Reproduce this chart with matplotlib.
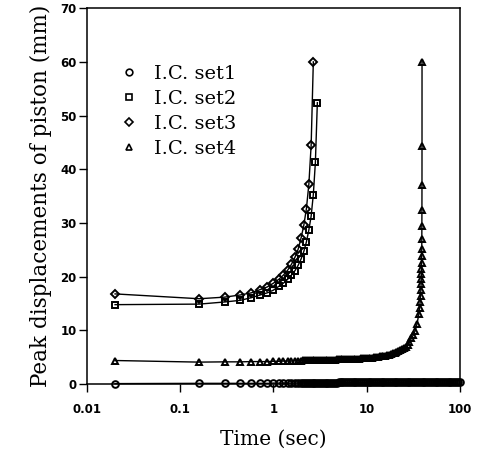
import matplotlib
matplotlib.use("Agg")
import matplotlib.pyplot as plt
from matplotlib.lines import Line2D

# sample times (sec)
t_grid = [0.02, 0.16, 0.30, 0.44, 0.58, 0.72, 0.86, 1.00, 1.14, 1.28, 1.42,
          1.56, 1.70, 1.84, 1.98, 2.12, 2.26, 2.40, 2.54, 2.68, 2.82, 2.96]
t_dense = [2.09, 2.19, 2.29, 2.40, 2.51, 2.63, 2.75, 2.88, 3.02, 3.16, 3.31,
           3.47, 3.63, 3.80, 3.98, 4.17, 4.37, 4.57, 4.79, 5.01, 5.25, 5.50,
           5.75, 6.03, 6.31, 6.61, 6.92, 7.24, 7.59, 7.94, 8.32, 8.71, 9.12,
           9.55, 10.0, 10.5, 11.0, 11.5, 12.0, 12.6, 13.2, 13.8, 14.5, 15.1,
           15.8, 16.6, 17.4, 18.2, 19.1, 20.0, 20.9, 21.9, 22.9, 24.0, 25.1,
           26.3, 27.5, 28.8, 30.2, 31.6, 33.1, 34.7, 36.3, 38.0, 39.8, 41.7,
           43.7, 45.7, 47.9, 50.1, 52.5, 55.0, 57.5, 60.3, 63.1, 66.1, 69.2,
           72.4, 75.9, 79.4, 83.2, 87.1, 91.2, 95.5, 100.0]

# I.C. set1 (circles)
set1_t = t_grid[:15] + t_dense
set1_y = [0.10, 0.15, 0.15, 0.15, 0.15, 0.15, 0.15, 0.20, 0.20, 0.20, 0.20,
          0.20, 0.20, 0.25, 0.25,
          0.25, 0.25, 0.25, 0.25, 0.26, 0.26, 0.26, 0.27, 0.27, 0.27, 0.28,
          0.28, 0.28, 0.29, 0.29, 0.30, 0.30, 0.30, 0.30, 0.31, 0.31, 0.31,
          0.31, 0.32, 0.32, 0.32, 0.32, 0.32, 0.33, 0.33, 0.33, 0.33, 0.33,
          0.34, 0.34, 0.34, 0.34, 0.34, 0.35, 0.35, 0.35, 0.35, 0.35, 0.35,
          0.36, 0.36, 0.36, 0.36, 0.36, 0.37, 0.37, 0.37, 0.37, 0.37, 0.38,
          0.38, 0.38, 0.38, 0.38, 0.38, 0.39, 0.39, 0.39, 0.39, 0.39, 0.40,
          0.40, 0.40, 0.40, 0.40, 0.40, 0.40, 0.40, 0.40, 0.40, 0.40, 0.40,
          0.40, 0.40, 0.40, 0.40, 0.40, 0.40, 0.40, 0.40]

# I.C. set2 (squares)
set2_t = t_grid
set2_y = [14.8, 14.9, 15.3, 15.6, 16.1, 16.6, 17.0, 17.5, 18.2, 18.8, 19.5,
          20.3, 21.1, 22.1, 23.3, 24.7, 26.5, 28.7, 31.3, 35.3, 41.3, 52.4]

# I.C. set3 (diamonds)
set3_t = t_grid[:20]
set3_y = [16.8, 15.9, 16.2, 16.6, 17.0, 17.6, 18.1, 18.8, 19.5, 20.3, 21.2,
          22.3, 23.6, 25.1, 27.2, 29.6, 32.7, 37.2, 44.5, 60.0]

# I.C. set4 (triangles)
set4_t = t_grid[:15] + t_dense[:63] + [
    37.0, 37.5, 37.9, 38.2, 38.4, 38.55, 38.65, 38.75, 38.85, 38.95, 39.05,
    39.1, 39.15, 39.2, 39.25, 39.28, 39.3]
set4_y = [4.40, 4.10, 4.15, 4.15, 4.20, 4.20, 4.20, 4.25, 4.25, 4.30, 4.30,
          4.30, 4.35, 4.35, 4.40,
          4.45, 4.45, 4.45, 4.46, 4.47, 4.47, 4.48, 4.49, 4.50, 4.50, 4.51,
          4.52, 4.53, 4.54, 4.55, 4.56, 4.57, 4.58, 4.59, 4.60, 4.61, 4.62,
          4.63, 4.65, 4.66, 4.67, 4.69, 4.70, 4.72, 4.74, 4.76, 4.78, 4.80,
          4.83, 4.85, 4.88, 4.92, 4.95, 5.00, 5.05, 5.10, 5.15, 5.20, 5.27,
          5.33, 5.40, 5.50, 5.60, 5.72, 5.85, 6.00, 6.15, 6.30, 6.50, 6.75,
          7.00, 7.35, 7.80, 8.50, 9.10, 9.90, 11.2, 13.0,
          14.2, 15.3, 16.5, 17.6, 18.6, 19.6, 20.5, 21.4, 22.5, 23.8, 25.2,
          27.0, 29.4, 32.5, 37.1, 44.4, 60.0]

labels = ["I.C. set1", "I.C. set2", "I.C. set3", "I.C. set4"]
markers = ["o", "s", "D", "^"]
msizes = [4.8, 4.6, 4.2, 5.0]

serif = ["DejaVu Serif"]
fig = plt.figure(figsize=(4.78, 4.53), dpi=100)
ax = fig.add_axes([0.182, 0.152, 0.780, 0.830])

series = [(set1_t, set1_y), (set2_t, set2_y), (set3_t, set3_y), (set4_t, set4_y)]
for (t, y), m, ms in zip(series, markers, msizes):
    ax.plot(t, y, color="black", lw=1.0, marker=m, ms=ms, mfc="none",
            mec="black", mew=1.4, clip_on=False, zorder=3)

ax.set_xscale("log")
ax.set_xlim(0.01, 100)
ax.set_ylim(0, 70)
ax.set_xticks([0.01, 0.1, 1, 10, 100])
ax.set_xticklabels(["0.01", "0.1", "1", "10", "100"])
ax.set_yticks(range(0, 71, 10))
ax.minorticks_off()
ax.tick_params(direction="out", length=5.5, width=1, top=False, right=False,
               labelsize=8.5)
ax.tick_params(axis="y", pad=2)
ax.tick_params(axis="x", pad=8)
for lab in ax.get_xticklabels() + ax.get_yticklabels():
    lab.set_fontfamily("DejaVu Sans")
    lab.set_fontweight("bold")
for s in ax.spines.values():
    s.set_linewidth(1.1)

ax.set_xlabel("Time (sec)", family=serif, fontsize=14.5, labelpad=10)
ax.set_ylabel("Peak displacements of piston (mm)", family=serif, fontsize=15.5,
              labelpad=6)

handles = [Line2D([], [], ls="none", marker=m, ms=ms, mfc="none", mec="black",
                  mew=1.2) for m, ms in zip(markers, msizes)]
ax.legend(handles, labels, loc="upper left", bbox_to_anchor=(0.045, 0.895),
          frameon=False, prop={"family": serif, "size": 14},
          handlelength=0.8, handletextpad=0.9, labelspacing=0.36)

fig.savefig("out.png", dpi=100)
